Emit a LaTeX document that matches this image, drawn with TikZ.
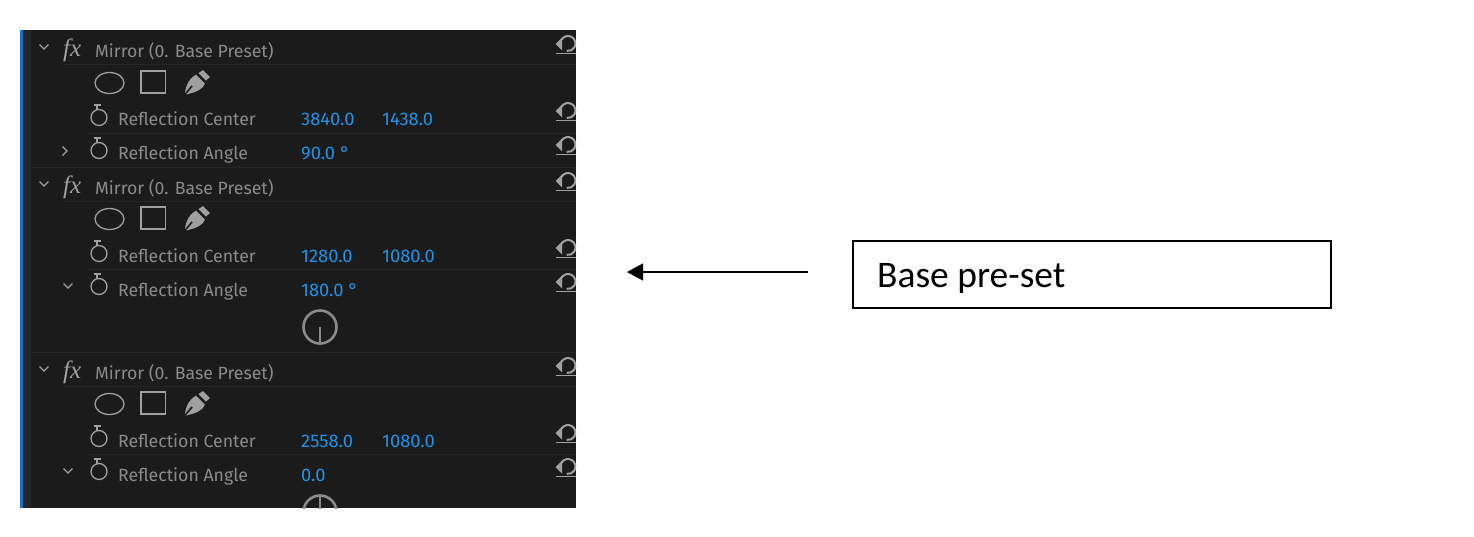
\documentclass[tikz,border=0pt]{standalone}
\usepackage{fontspec}
\setmainfont{Fira Sans}
\newfontfamily\calib{Carlito}
\newfontfamily\serifit{Liberation Serif}
\usetikzlibrary{arrows.meta}
\definecolor{panel}{HTML}{1B1B1B}
\definecolor{sep}{HTML}{262626}
\definecolor{lab}{HTML}{8A8A8A}
\definecolor{val}{HTML}{1F93E6}
\definecolor{ico}{HTML}{A0A0A0}
\definecolor{strip}{HTML}{1673C8}
\definecolor{dark}{HTML}{262626}
\tikzset{
  x=1pt,y=-1pt,
  lbl/.style={anchor=base west,inner sep=0pt,text=lab,font=\fontsize{17.7}{20}\selectfont},
  num/.style={anchor=base west,inner sep=0pt,text=val,font=\fontsize{18.3}{20}\selectfont},
  fxmark/.style={anchor=west,inner sep=0pt,text=ico,font=\serifit\itshape\fontsize{25}{26}\selectfont},
  icon/.style={draw=ico,line width=1.3pt},
  sepline/.style={draw=sep,line width=1pt},
  chev/.style={draw=ico,line width=1.3pt},
  dial/.style={draw=lab,line width=2.6pt},
  calloutbox/.style={draw=black,line width=1.2pt,minimum width=478pt,minimum height=67pt,inner sep=0pt},
}
% stopwatch
\newcommand{\watch}[2]{%
  \draw[icon] (#1,#2-1.5) circle[radius=8];
  \draw[icon] (#1-5,#2-14) -- (#1+2,#2-14) (#1-2,#2-14) -- (#1-2,#2-9.5);
}
% reset icon
\newcommand{\resetic}[2]{%
  \draw[draw=ico,line width=2pt] (#1+2,#2-3.5) ++(-150:7.5) arc[start angle=-150,end angle=100,radius=7.5];
  \fill[ico] (#1-10.5,#2-3) -- (#1-4,#2-9.5) -- (#1-4,#2+3.5) -- cycle;
  \draw[draw=ico,line width=1.6pt] (#1-10,#2+6.5) -- (#1+12,#2+6.5);
}
\newcommand{\chevdown}[2]{\draw[chev] (#1-4.5,#2-2.5) -- (#1,#2+2) -- (#1+4.5,#2-2.5);}
\newcommand{\chevright}[2]{\draw[chev] (#1-2.5,#2-4.5) -- (#1+2,#2) -- (#1-2.5,#2+4.5);}
\newcommand{\shapes}[1]{%
  \draw[icon] (109.5,#1) ellipse[x radius=14.5,y radius=10.5];
  \draw[icon] (141,#1-12) rectangle (165.5,#1+10);
  \fill[ico] (203,#1-13) -- (210,#1-6) -- (206,#1-2.5) -- (198.5,#1-10) -- cycle;
  \fill[ico] (196,#1-8.5) -- (205,#1+0.5) .. controls (203,#1+6) and (197,#1+9) .. (186,#1+11.5) -- (193,#1+3.5) -- (191.5,#1+2) -- (185,#1+10) .. controls (186,#1+1) and (190,#1-5) .. (196,#1-8.5) -- cycle;
}
\begin{document}
\begin{tikzpicture}
\useasboundingbox (0,0) rectangle (1474,536);
\fill[white] (0,0) rectangle (1474,536);
\begin{scope}
\clip (20,30) rectangle (576,508);
\fill[panel] (20,30) rectangle (576,508);
\fill[strip] (20,30) rectangle (23,508);
\fill[dark] (23,30) rectangle (31,508);
% separators
\draw[sepline] (64,64) -- (576,64) (87,133) -- (576,133) (31,167) -- (576,167);
\draw[sepline] (64,201) -- (576,201) (87,269) -- (576,269) (31,352) -- (576,352);
\draw[sepline] (64,386) -- (576,386) (87,454) -- (576,454);
% block 1
\chevdown{44}{47}
\node[fxmark] (fx1) at (63,50) {fx};
\node[lbl] (m1) at (95,57.5) {Mirror (0. Base Preset)};
\shapes{83}
\watch{99}{119}
\node[lbl] (c1) at (118,125.5) {Reflection Center};
\node[num] (c1a) at (301,125.5) {3840.0};
\node[num] (c1b) at (382,125.5) {1438.0};
\chevright{65}{151}
\watch{99}{152}
\node[lbl] (a1) at (118,159.5) {Reflection Angle};
\node[num] (a1a) at (301,159) {90.0 °};
\resetic{566}{47}\resetic{566}{114}\resetic{566}{148}
% block 2
\chevdown{44}{184}
\node[fxmark] (fx2) at (63,187) {fx};
\node[lbl] (m2) at (95,194.5) {Mirror (0. Base Preset)};
\shapes{219}
\watch{99}{255}
\node[lbl] (c2) at (118,262.5) {Reflection Center};
\node[num] (c2a) at (301,262.5) {1280.0};
\node[num] (c2b) at (382,262.5) {1080.0};
\chevdown{68}{286}
\watch{99}{288}
\node[lbl] (a2) at (118,296.5) {Reflection Angle};
\node[num] (a2a) at (301,296) {180.0 °};
\draw[dial] (320,327) circle[radius=16.5];
\draw[dial] (320,327) -- (320,343);
\resetic{566}{184}\resetic{566}{251}\resetic{566}{285}
% block 3
\chevdown{44}{369}
\node[fxmark] (fx3) at (63,372) {fx};
\node[lbl] (m3) at (95,379.5) {Mirror (0. Base Preset)};
\shapes{404}
\watch{99}{440}
\node[lbl] (c3) at (118,447.5) {Reflection Center};
\node[num] (c3a) at (301,447.5) {2558.0};
\node[num] (c3b) at (382,447.5) {1080.0};
\chevdown{68}{471}
\watch{99}{473}
\node[lbl] (a3) at (118,481.5) {Reflection Angle};
\node[num] (a3a) at (301,481) {0.0};
\draw[dial] (320,512) circle[radius=16.5];
\draw[dial] (320,512) -- (320,496);
\resetic{566}{369}\resetic{566}{436}\resetic{566}{470}
\end{scope}
% callout
\node[calloutbox] (box) at (1092,274.5) {};
\node[anchor=base west,inner sep=0pt,font=\calib\fontsize{37.5}{40}\selectfont] (boxtext) at (877,287.5) {Base pre-set};
\coordinate (tail) at (808,272);
\coordinate (tip) at (627,272);
\draw[line width=1.3pt,-{Triangle[length=16pt,width=17pt]}] (tail) -- (tip);
\end{tikzpicture}
\end{document}
